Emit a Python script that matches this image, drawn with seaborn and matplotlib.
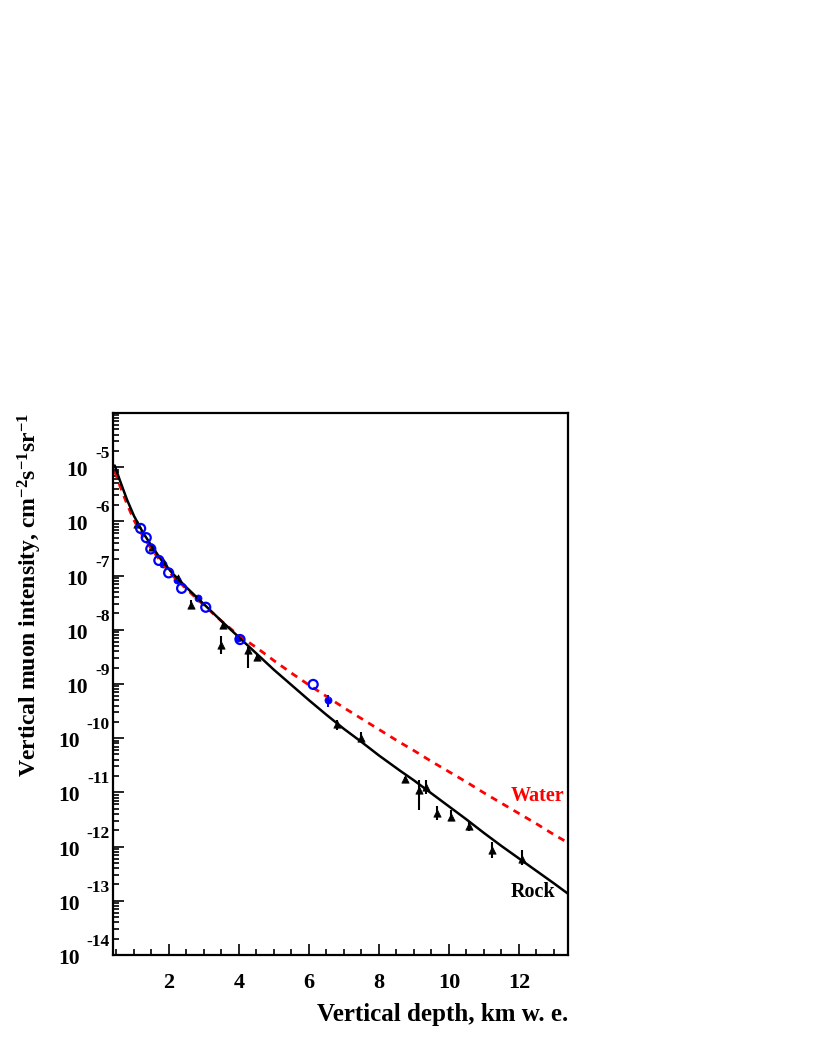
import numpy as np
import pandas as pd
import seaborn as sns
import matplotlib.pyplot as plt
from matplotlib.ticker import LogLocator, MultipleLocator, FuncFormatter, NullFormatter
from matplotlib.transforms import offset_copy

# model curves (depth in km w.e., intensity in cm^-2 s^-1 sr^-1)
rock_depth = [0.45, 0.6, 0.8, 1.0, 1.25, 1.5, 1.8, 2.1, 2.5, 3.0, 3.5, 4.0, 4.5, 5.0, 5.5,
              6.0, 6.5, 7.0, 7.5, 8.0, 8.6, 9.0, 9.5, 10.0, 10.5, 11.0, 11.5, 12.0, 12.5,
              13.0, 13.4]
rock_log = [-4.97, -5.25, -5.60, -5.90, -6.20, -6.45, -6.73, -6.96, -7.22, -7.53, -7.84,
            -8.14, -8.44, -8.74, -9.02, -9.30, -9.57, -9.83, -10.07, -10.32, -10.60,
            -10.78, -11.02, -11.26, -11.50, -11.75, -11.99, -12.22, -12.45, -12.68, -12.87]

water_depth = [0.45, 0.6, 0.8, 1.0, 1.25, 1.5, 1.8, 2.1, 2.5, 3.0, 3.5, 4.0, 4.5, 5.0, 5.5,
               6.0, 6.5, 7.0, 7.5, 8.0, 8.5, 9.0, 9.5, 10.0, 10.5, 11.0, 11.5, 12.0, 12.5,
               13.0, 13.4]
water_log = [-5.08, -5.35, -5.68, -5.98, -6.27, -6.51, -6.77, -7.00, -7.25, -7.55, -7.84,
             -8.11, -8.33, -8.57, -8.80, -9.02, -9.23, -9.44, -9.64, -9.84, -10.04, -10.23,
             -10.43, -10.62, -10.81, -11.01, -11.20, -11.39, -11.58, -11.78, -11.93]

# black triangles: depth, intensity, error band low/high
tri_depth = [1.09, 1.52, 1.86, 2.25, 2.62, 3.53, 3.50, 4.27, 4.52, 6.81, 7.48, 8.74,
             9.15, 9.34, 9.65, 10.06, 10.57, 11.22, 12.08]
tri_int = [9.1e-7, 3.3e-7, 1.74e-7, 8.9e-8, 2.9e-8, 1.23e-8, 5.2e-9, 4.3e-9, 3.1e-9,
           1.82e-10, 1.02e-10, 1.74e-11, 1.10e-11, 1.23e-11, 4.1e-12, 3.5e-12, 2.4e-12,
           8.7e-13, 6.0e-13]
tri_lo = [8.3e-7, 3.0e-7, 1.58e-7, 8.1e-8, 2.4e-8, 1.12e-8, 3.5e-9, 2.0e-9, 2.8e-9,
          1.41e-10, 8.7e-11, 1.51e-11, 4.8e-12, 9.5e-12, 3.1e-12, 2.9e-12, 1.9e-12,
          6.2e-13, 4.6e-13]
tri_hi = [1.0e-6, 3.6e-7, 1.9e-7, 9.8e-8, 3.5e-8, 1.35e-8, 7.8e-9, 4.8e-9, 3.4e-9,
          2.2e-10, 1.32e-10, 1.95e-11, 1.70e-11, 1.70e-11, 5.5e-12, 4.8e-12, 2.9e-12,
          1.2e-12, 8.7e-13]

# blue open circles
open_depth = [1.19, 1.35, 1.48, 1.71, 1.99, 2.36, 3.05, 4.03, 6.12]
open_int = [7.4e-7, 5.0e-7, 3.1e-7, 1.9e-7, 1.12e-7, 5.8e-8, 2.6e-8, 6.6e-9, 9.8e-10]

# blue filled circles
full_depth = [1.84, 2.22, 2.82, 3.98, 6.55]
full_int = [1.6e-7, 8.3e-8, 3.8e-8, 7.1e-9, 5.0e-10]
full_lo = [1.5e-7, 7.8e-8, 3.6e-8, 6.7e-9, 3.8e-10]
full_hi = [1.7e-7, 8.8e-8, 4.0e-8, 7.5e-9, 6.3e-10]

# labelled decades on the y axis
decades = [-5, -6, -7, -8, -9, -10, -11, -12, -13, -14]

sns.set_style('ticks')
plt.rcParams['font.family'] = ['Liberation Serif', 'DejaVu Serif']
plt.rcParams['font.weight'] = 'bold'
plt.rcParams['mathtext.fontset'] = 'custom'
plt.rcParams['mathtext.rm'] = 'Liberation Serif:bold'
plt.rcParams['mathtext.bf'] = 'Liberation Serif:bold'
plt.rcParams['mathtext.it'] = 'Liberation Serif:bold'
plt.rcParams['mathtext.default'] = 'bf'
for k in ['text.color', 'axes.labelcolor', 'xtick.color', 'ytick.color', 'axes.edgecolor']:
    plt.rcParams[k] = 'black'

fig = plt.figure(figsize=(8.17, 10.58), dpi=100)
ax = fig.add_axes([0.1383, 0.0974, 0.5569, 0.5123])

rock = pd.DataFrame({'depth': rock_depth, 'intensity': 10.0 ** np.array(rock_log)})
water = pd.DataFrame({'depth': water_depth, 'intensity': 10.0 ** np.array(water_log)})

sns.lineplot(data=water, x='depth', y='intensity', ax=ax, color='red', lw=2,
             linestyle=(0, (2.5, 2.2)), sort=False, estimator=None)
sns.lineplot(data=rock, x='depth', y='intensity', ax=ax, color='black', lw=1.8,
             sort=False, estimator=None)

ax.vlines(tri_depth, tri_lo, tri_hi, color='black', lw=1.5)
sns.scatterplot(x=tri_depth, y=tri_int, ax=ax, marker='^', s=28, color='black',
                edgecolor='black', linewidth=0.5)
ax.scatter(open_depth, open_int, s=42, facecolors='none', edgecolors='blue',
           linewidths=1.6, zorder=4)
ax.vlines(full_depth, full_lo, full_hi, color='blue', lw=1.5)
sns.scatterplot(x=full_depth, y=full_int, ax=ax, marker='o', s=26, color='blue',
                edgecolor='blue', linewidth=0.5)

ax.set_yscale('log')
ax.set_xlim(0.4, 13.4)
ax.set_ylim(1e-14, 1e-4)

ax.xaxis.set_major_locator(MultipleLocator(2))
ax.xaxis.set_minor_locator(MultipleLocator(0.5))
ax.yaxis.set_major_locator(LogLocator(base=10, numticks=20))
ax.yaxis.set_minor_locator(LogLocator(base=10, subs=np.arange(2, 10), numticks=200))
ax.yaxis.set_minor_formatter(NullFormatter())
ax.yaxis.set_major_formatter(NullFormatter())
ax.xaxis.set_major_formatter(FuncFormatter(lambda v, p: '%d' % v))

ax.tick_params(which='both', direction='in', top=False, right=False, width=1.2,
               labelsize=16)
ax.tick_params(which='major', length=8)
ax.tick_params(which='minor', length=4)
ax.tick_params(axis='x', pad=13)

for sp in ax.spines.values():
    sp.set_linewidth(1.6)

# ROOT-style "10" with a raised exponent
ytrans = ax.get_yaxis_transform()
for e in decades:
    v = 10.0 ** e
    ex = '-%d' % abs(e)
    t_exp = offset_copy(ytrans, fig=fig, x=-3, y=9, units='dots')
    ax.text(0, v, ex, transform=t_exp, ha='right', va='baseline', fontsize=12.5)
    w = 5.5 + 8.5 * len(str(abs(e)))
    t_base = offset_copy(ytrans, fig=fig, x=-3 - w - 8, y=-9, units='dots')
    ax.text(0, v, '10', transform=t_base, ha='right', va='baseline', fontsize=15.5)

ax.set_xlabel('Vertical depth, km w. e.', fontsize=18, fontweight='bold', loc='right',
              labelpad=7)
ax.set_ylabel(r'Vertical muon intensity, cm$^{-2}$s$^{-1}$sr$^{-1}$', fontsize=17,
              fontweight='bold', loc='top', labelpad=46)

ax.text(12.54, 10 ** -11.07, 'Water', color='red', fontsize=14.5, fontweight='bold',
        ha='center', va='center')
ax.text(12.4, 10 ** -12.84, 'Rock', color='black', fontsize=14.5, fontweight='bold',
        ha='center', va='center')

fig.savefig('out.png', dpi=100, facecolor='white')
